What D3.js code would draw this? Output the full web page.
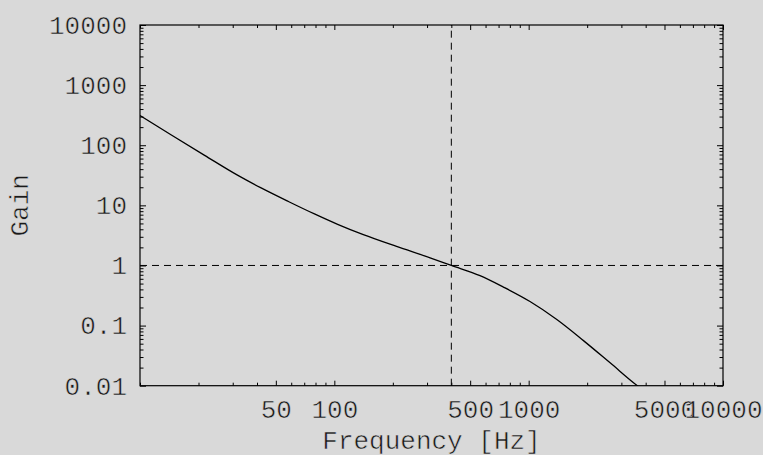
<!DOCTYPE html>
<html>
<head>
<meta charset="utf-8">
<script src="https://cdn.jsdelivr.net/npm/d3@7"></script>
<style>
  html, body { margin: 0; padding: 0; background: #d9d9d9; }
  svg { display: block; }
  text {
    font-family: "Liberation Mono", "Courier New", monospace;
    fill: #1a1a1a;
    stroke: #d9d9d9;
    stroke-width: 0.55px;
  }
</style>
</head>
<body>
<svg id="chart" width="763" height="455"></svg>
<script>
// Open-loop gain magnitude versus frequency
const frequency = [10, 14.5, 21.5, 31.9, 42, 58, 79, 104, 141, 209, 311, 400, 562, 741, 1016, 1396, 1914, 2625, 3625, 4000];
const gain      = [313, 148, 67.9, 31.5, 19.5, 11.6, 7.2, 4.83, 3.25, 2.07, 1.34, 1.0, 0.676, 0.437, 0.251, 0.126, 0.0562, 0.024, 0.01, 0.0079];

// Reference lines: unity gain and crossover frequency
const unityGain = 1;
const crossoverFreq = 400;

// Tick values and their labels
const xMajorTicks  = [50, 100, 500, 1000, 5000, 10000];
const xMajorLabels = ["50", "100", "500", "1000", "5000", "10000"];
const xMinorTicks  = [10, 20, 30, 40, 60, 70, 80, 90, 200, 300, 400, 600, 700, 800, 900,
                      2000, 3000, 4000, 6000, 7000, 8000, 9000];
const yMajorTicks  = [0.01, 0.1, 1, 10, 100, 1000, 10000];
const yMajorLabels = ["0.01", "0.1", "1", "10", "100", "1000", "10000"];
const yMinorTicks  = [];
for (let e = -2; e < 4; e++) for (let m = 2; m <= 9; m++) yMinorTicks.push(+(m * Math.pow(10, e)).toPrecision(3));

const xLabel = "Frequency [Hz]";
const yLabel = "Gain";

const W = 763, H = 455;
const plot = { left: 140, right: 723, top: 25, bottom: 385.7 };

const svg = d3.select("#chart");
svg.append("rect").attr("width", W).attr("height", H).attr("fill", "#d9d9d9");

const x = d3.scaleLog().domain([10, 10000]).range([plot.left, plot.right]);
const y = d3.scaleLog().domain([0.01, 10000]).range([plot.bottom, plot.top]);

svg.append("clipPath").attr("id", "plotClip")
  .append("rect")
  .attr("x", plot.left).attr("y", plot.top)
  .attr("width", plot.right - plot.left).attr("height", plot.bottom - plot.top);

// Dashed reference lines
const ref = svg.append("g")
  .attr("stroke", "#000").attr("stroke-width", 1).attr("stroke-dasharray", "7,5").attr("fill", "none");
ref.append("line")
  .attr("x1", x.range()[0]).attr("x2", x.range()[1])
  .attr("y1", y(unityGain)).attr("y2", y(unityGain));
ref.append("line")
  .attr("x1", x(crossoverFreq)).attr("x2", x(crossoverFreq))
  .attr("y1", y.range()[0]).attr("y2", y.range()[1]);

// Gain curve
const pts = frequency.map((f, i) => [f, gain[i]]);
svg.append("path")
  .datum(pts)
  .attr("clip-path", "url(#plotClip)")
  .attr("fill", "none")
  .attr("stroke", "#000")
  .attr("stroke-width", 1.3)
  .attr("d", d3.line().x(d => x(d[0])).y(d => y(d[1])).curve(d3.curveMonotoneX));

function styleAxis(g) {
  g.select(".domain").remove();
  g.selectAll(".tick line").attr("stroke", "#000").attr("stroke-width", 1);
  g.selectAll(".tick text").attr("font-size", 26).attr("fill", null);
}

// Bottom axis
svg.append("g").attr("transform", `translate(0,${plot.bottom})`)
  .call(d3.axisBottom(x).tickValues(xMajorTicks).tickSize(-5).tickPadding(14)
    .tickFormat((d, i) => xMajorLabels[i]))
  .call(styleAxis);
svg.append("g").attr("transform", `translate(0,${plot.bottom})`)
  .call(d3.axisBottom(x).tickValues(xMinorTicks).tickSize(-3).tickFormat(""))
  .call(styleAxis);
// Top axis (ticks only)
svg.append("g").attr("transform", `translate(0,${plot.top})`)
  .call(d3.axisTop(x).tickValues(xMajorTicks).tickSize(-5).tickFormat(""))
  .call(styleAxis);
svg.append("g").attr("transform", `translate(0,${plot.top})`)
  .call(d3.axisTop(x).tickValues(xMinorTicks).tickSize(-3).tickFormat(""))
  .call(styleAxis);

// Left axis
svg.append("g").attr("transform", `translate(${plot.left},0)`)
  .call(d3.axisLeft(y).tickValues(yMajorTicks).tickSize(-6).tickPadding(13)
    .tickFormat((d, i) => yMajorLabels[i]))
  .call(styleAxis);
svg.append("g").attr("transform", `translate(${plot.left},0)`)
  .call(d3.axisLeft(y).tickValues(yMinorTicks).tickSize(-3.5).tickFormat(""))
  .call(styleAxis);
// Right axis (ticks only)
svg.append("g").attr("transform", `translate(${plot.right},0)`)
  .call(d3.axisRight(y).tickValues(yMajorTicks).tickSize(-6).tickFormat(""))
  .call(styleAxis);
svg.append("g").attr("transform", `translate(${plot.right},0)`)
  .call(d3.axisRight(y).tickValues(yMinorTicks).tickSize(-3.5).tickFormat(""))
  .call(styleAxis);

// Frame
svg.append("rect")
  .attr("x", plot.left).attr("y", plot.top)
  .attr("width", plot.right - plot.left).attr("height", plot.bottom - plot.top)
  .attr("fill", "none").attr("stroke", "#000").attr("stroke-width", 1.2);

// Axis titles
svg.append("text")
  .attr("x", (plot.left + plot.right) / 2).attr("y", 449)
  .attr("text-anchor", "middle").attr("font-size", 26)
  .text(xLabel);
svg.append("text")
  .attr("transform", `translate(28,${(plot.top + plot.bottom) / 2}) rotate(-90)`)
  .attr("text-anchor", "middle").attr("font-size", 26)
  .text(yLabel);
</script>
</body>
</html>
